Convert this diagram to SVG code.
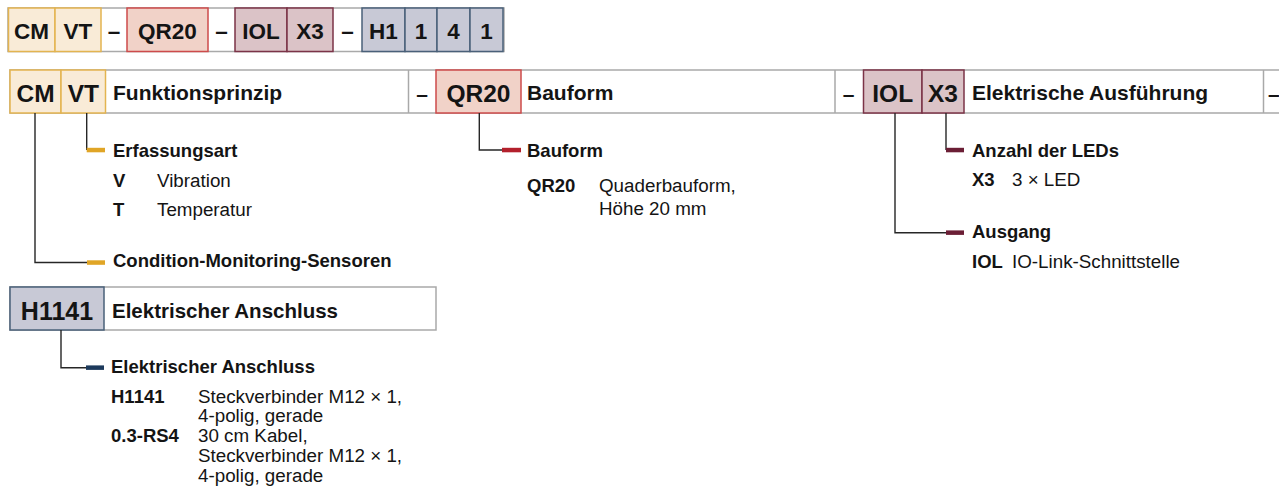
<svg xmlns="http://www.w3.org/2000/svg" width="1279" height="501" viewBox="0 0 1279 501">
<style>
text{font-family:"Liberation Sans",Arial,sans-serif;fill:#141414}
.b{font-weight:bold}
.top{font-size:22.5px;font-weight:bold;text-anchor:middle}
.code{font-size:24.5px;font-weight:bold;text-anchor:middle}
.lab{font-size:21px;font-weight:bold}
.h{font-size:18.5px;font-weight:bold}
.r{font-size:18.8px}
.gray{fill:#fff;stroke:#a9a9a9;stroke-width:1.5}
.gold{fill:#f9ebd7;stroke:#e3b450;stroke-width:1.5}
.red{fill:#f1d2c8;stroke:#cd4b4b;stroke-width:1.5}
.mar{fill:#dbc3c7;stroke:#7b3347;stroke-width:1.5}
.blu{fill:#c8c9d6;stroke:#4a6079;stroke-width:1.5}
.ln{fill:none;stroke:#262626;stroke-width:1.4}
</style>
<g id="code-top">
<rect class="gray" x="8" y="8" width="496" height="43.5"/>
<rect class="gold" x="8.5" y="8" width="46.5" height="43.5"/>
<rect class="gold" x="55" y="8" width="46" height="43.5"/>
<rect class="red" x="127" y="8" width="81" height="43.5"/>
<rect class="mar" x="235" y="8" width="52" height="43.5"/>
<rect class="mar" x="287" y="8" width="46" height="43.5"/>
<rect class="blu" x="362" y="8" width="43" height="43.5"/>
<rect class="blu" x="405" y="8" width="32" height="43.5"/>
<rect class="blu" x="437" y="8" width="33" height="43.5"/>
<rect class="blu" x="470" y="8" width="33" height="43.5"/>
<text class="top" x="31.5" y="39.3">CM</text>
<text class="top" x="78" y="39.3">VT</text>
<text class="top" x="114" y="39.3">–</text>
<text class="top" x="167.5" y="39.3">QR20</text>
<text class="top" x="221.5" y="39.3">–</text>
<text class="top" x="261" y="39.3">IOL</text>
<text class="top" x="310" y="39.3">X3</text>
<text class="top" x="347.5" y="39.3">–</text>
<text class="top" x="383.5" y="39.3">H1</text>
<text class="top" x="421" y="39.3">1</text>
<text class="top" x="453.5" y="39.3">4</text>
<text class="top" x="486.5" y="39.3">1</text>
</g>
<g id="row-header">
<rect class="gray" x="10" y="70" width="1275" height="43"/>
<line x1="408.5" y1="70" x2="408.5" y2="113" stroke="#a9a9a9" stroke-width="1.5"/>
<line x1="835" y1="70" x2="835" y2="113" stroke="#a9a9a9" stroke-width="1.5"/>
<line x1="1263.5" y1="70" x2="1263.5" y2="113" stroke="#a9a9a9" stroke-width="1.5"/>
<text class="lab" x="422" y="101" text-anchor="middle">–</text>
<text class="lab" x="848.5" y="101" text-anchor="middle">–</text>
<text class="lab" x="1268" y="101">–</text>
</g>
<g id="node-cm">
<rect class="gold" x="10" y="70" width="51" height="43"/>
<text class="code" x="35.5" y="102">CM</text>
</g>
<g id="node-vt">
<rect class="gold" x="61" y="70" width="44.5" height="43"/>
<text class="code" x="83.3" y="102">VT</text>
<text class="lab" x="113" y="100">Funktionsprinzip</text>
</g>
<g id="node-qr20">
<rect class="red" x="436" y="70" width="85" height="43"/>
<text class="code" x="478.5" y="102">QR20</text>
<text class="lab" x="527" y="100">Bauform</text>
</g>
<g id="node-iol">
<rect class="mar" x="863.5" y="70" width="58.5" height="43"/>
<text class="code" x="892.7" y="102">IOL</text>
</g>
<g id="node-x3">
<rect class="mar" x="922" y="70" width="42" height="43"/>
<text class="code" x="943" y="102">X3</text>
<text class="lab" x="972" y="100">Elektrische Ausführung</text>
</g>
<g id="node-h1141">
<rect class="gray" x="10" y="287" width="426" height="43"/>
<rect class="blu" x="10" y="287" width="94" height="43"/>
<text x="57" y="320" style="font-size:25px;font-weight:bold;text-anchor:middle">H1141</text>
<text x="112" y="317.6" style="font-size:20.5px;font-weight:bold">Elektrischer Anschluss</text>
</g>
<g id="connectors">
<path class="ln" d="M35 113V262.5H87"/>
<path class="ln" d="M86.7 113V150"/>
<path class="ln" d="M479.3 113V150H502"/>
<path class="ln" d="M946 113V150"/>
<path class="ln" d="M895 113V232.7H946"/>
<path class="ln" d="M61 330V367.7H86"/>
<rect x="86.7" y="147.8" width="18.3" height="4.5" fill="#e0a526"/>
<rect x="87" y="260.3" width="18" height="4.5" fill="#e0a526"/>
<rect x="502" y="147.8" width="19" height="4.5" fill="#b3202c"/>
<rect x="946" y="147.8" width="18" height="4.5" fill="#6b1e35"/>
<rect x="946" y="230.4" width="18" height="4.5" fill="#6b1e35"/>
<rect x="86" y="365.4" width="18" height="4.5" fill="#1d3a5c"/>
</g>
<g id="desc-vt">
<text class="h" x="113" y="156.6">Erfassungsart</text>
<text class="h" x="113" y="186.6">V</text>
<text class="r" x="157" y="186.6">Vibration</text>
<text class="h" x="113" y="215.5">T</text>
<text class="r" x="157" y="215.5">Temperatur</text>
</g>
<g id="desc-cm">
<text class="h" x="113" y="266.6">Condition-Monitoring-Sensoren</text>
</g>
<g id="desc-qr20">
<text class="h" x="527" y="156.6">Bauform</text>
<text class="h" x="527" y="192">QR20</text>
<text class="r" x="599" y="192">Quaderbauform,</text>
<text class="r" x="599" y="215">Höhe 20 mm</text>
</g>
<g id="desc-x3">
<text class="h" x="972" y="156.7">Anzahl der LEDs</text>
<text class="h" x="972" y="186">X3</text>
<text class="r" x="1012" y="186">3 × LED</text>
</g>
<g id="desc-iol">
<text class="h" x="972" y="238">Ausgang</text>
<text class="h" x="972" y="268">IOL</text>
<text class="r" x="1012" y="268">IO-Link-Schnittstelle</text>
</g>
<g id="desc-h1141">
<text class="h" x="111" y="373">Elektrischer Anschluss</text>
<text class="h" x="111" y="402.5">H1141</text>
<text class="r" x="198" y="402.5">Steckverbinder M12 × 1,</text>
<text class="r" x="198" y="422">4-polig, gerade</text>
<text class="h" x="111" y="442">0.3-RS4</text>
<text class="r" x="198" y="442">30 cm Kabel,</text>
<text class="r" x="198" y="462">Steckverbinder M12 × 1,</text>
<text class="r" x="198" y="481.5">4-polig, gerade</text>
</g>
</svg>
